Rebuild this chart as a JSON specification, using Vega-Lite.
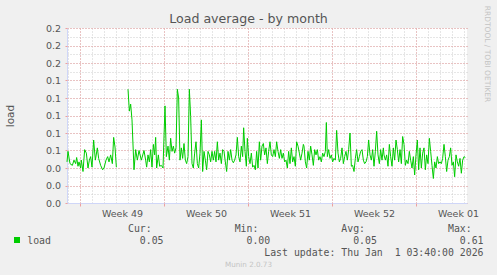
{
"$schema": "https://vega.github.io/schema/vega-lite/v6.json",
"width": 400, "height": 175,
"autosize": "none",
"padding": {"left": 67, "top": 28, "right": 30, "bottom": 72},
"background": "#f0f0f0",
"config": {"view": {"stroke": null, "fill": "white"}, "font": "DejaVu Sans"},
"title": {"text": "Load average - by month", "frame": "group", "anchor": "middle", "dx": -18.5, "dy": 34, "offset": 3.7, "baseline": "alphabetic", "fontSize": 12.6, "fontWeight": "normal", "font": "DejaVu Sans", "color": "#555555"},
"data": {"values": [
{"hour":-26,"load":0.047},{"hour":-24,"load":0.059},{"hour":-20,"load":0.045},{"hour":-15.3,"load":0.043},{"hour":-12,"load":0.049},{"hour":-8.7,"load":0.045},{"hour":-6.7,"load":0.052},{"hour":-4,"load":0.042},{"hour":-2,"load":0.047},{"hour":1.3,"load":0.040},{"hour":2.7,"load":0.049},{"hour":6,"load":0.036},{"hour":9.3,"load":0.061},{"hour":12.7,"load":0.057},{"hour":16,"load":0.040},{"hour":18.7,"load":0.049},{"hour":21.3,"load":0.053},{"hour":24,"load":0.041},{"hour":27.3,"load":0.072},{"hour":30.7,"load":0.049},{"hour":34.7,"load":0.063},{"hour":37.3,"load":0.051},{"hour":41.3,"load":0.043},{"hour":45.3,"load":0.038},{"hour":48,"load":0.040},{"hour":52,"load":0.049},{"hour":55.3,"load":0.053},{"hour":58,"load":0.047},{"hour":61.3,"load":0.055},{"hour":64.7,"load":0.045},{"hour":67.3,"load":0.075},{"hour":70,"load":0.064},{"hour":72.7,"load":0.041},
{"hour":85,"load":null},
{"hour":96,"load":0.130},{"hour":98.7,"load":0.105},{"hour":101.3,"load":0.113},{"hour":104,"load":0.095},{"hour":108,"load":0.038},{"hour":111.3,"load":0.061},{"hour":114.7,"load":0.049},{"hour":118,"load":0.060},{"hour":122.7,"load":0.049},
{"hour":128,"load":0.060},{"hour":131.3,"load":0.049},{"hour":133.3,"load":0.041},{"hour":136,"load":0.055},{"hour":138.7,"load":0.047},{"hour":141.3,"load":0.061},{"hour":144,"load":0.041},{"hour":146.7,"load":0.067},{"hour":149.3,"load":0.055},{"hour":151.3,"load":0.075},{"hour":153.3,"load":0.040},{"hour":156.7,"load":0.055},{"hour":159.3,"load":0.042},{"hour":162.7,"load":0.043},{"hour":166,"load":0.040},{"hour":170,"load":0.111},{"hour":172.7,"load":0.053},{"hour":176,"load":0.065},{"hour":178.7,"load":0.049},{"hour":181.3,"load":0.074},{"hour":184,"load":0.059},{"hour":186.7,"load":0.065},{"hour":189.3,"load":0.057},{"hour":192,"load":0.063},{"hour":194.7,"load":0.130},{"hour":197.3,"load":0.120},{"hour":200,"load":0.049},{"hour":202.7,"load":0.063},{"hour":205.3,"load":0.051},{"hour":208,"load":0.068},{"hour":210.7,"load":0.049},{"hour":213.3,"load":0.045},{"hour":216,"load":0.053},{"hour":218.7,"load":0.130},{"hour":221.3,"load":0.099},{"hour":224,"load":0.045},{"hour":226.7,"load":0.040},{"hour":229.3,"load":0.057},{"hour":232,"load":0.070},{"hour":234.7,"load":0.045},{"hour":237.3,"load":0.040},{"hour":240,"load":0.057},{"hour":242.7,"load":0.095},{"hour":245.3,"load":0.036},{"hour":248,"load":0.059},{"hour":250.7,"load":0.049},{"hour":253.3,"load":0.038},{"hour":256,"load":0.059},{"hour":258.7,"load":0.055},{"hour":261.3,"load":0.047},{"hour":264,"load":0.059},{"hour":266.7,"load":0.049},{"hour":269.3,"load":0.059},{"hour":272,"load":0.047},{"hour":274.7,"load":0.070},{"hour":277.3,"load":0.049},{"hour":280,"load":0.057},{"hour":282.7,"load":0.045},{"hour":285.3,"load":0.061},
{"hour":288,"load":0.059},{"hour":290.7,"load":0.047},{"hour":293.3,"load":0.036},{"hour":296,"load":0.059},{"hour":298.7,"load":0.049},{"hour":301.3,"load":0.061},{"hour":304,"load":0.049},{"hour":306.7,"load":0.046},{"hour":309.3,"load":0.049},{"hour":312,"load":0.055},{"hour":314.7,"load":0.075},{"hour":317.3,"load":0.053},{"hour":320,"load":0.047},{"hour":322.7,"load":0.065},{"hour":325.3,"load":0.053},{"hour":327.3,"load":0.086},{"hour":330,"load":0.059},{"hour":332.7,"load":0.042},{"hour":334.7,"load":0.074},{"hour":337.3,"load":0.053},{"hour":340,"load":0.045},{"hour":342.7,"load":0.057},{"hour":345.3,"load":0.041},{"hour":348,"load":0.043},{"hour":350.7,"load":0.038},{"hour":353.3,"load":0.059},{"hour":356,"load":0.040},{"hour":358.7,"load":0.070},{"hour":361.3,"load":0.049},{"hour":364,"load":0.065},{"hour":366.7,"load":0.068},{"hour":369.3,"load":0.055},{"hour":372,"load":0.063},{"hour":374.7,"load":0.045},{"hour":377.3,"load":0.059},{"hour":380,"load":0.070},{"hour":382.7,"load":0.055},{"hour":385.3,"load":0.053},{"hour":388,"load":0.061},{"hour":390.7,"load":0.053},{"hour":393.3,"load":0.070},{"hour":396,"load":0.059},{"hour":398.7,"load":0.051},{"hour":401.3,"load":0.061},{"hour":404,"load":0.051},{"hour":406.7,"load":0.057},{"hour":409.3,"load":0.047},{"hour":412,"load":0.049},{"hour":414.7,"load":0.040},{"hour":417.3,"load":0.059},{"hour":420,"load":0.045},{"hour":422.7,"load":0.063},{"hour":425.3,"load":0.047},{"hour":428,"load":0.053},{"hour":430.7,"load":0.042},{"hour":433.3,"load":0.070},{"hour":436,"load":0.065},{"hour":438.7,"load":0.057},{"hour":441.3,"load":0.049},{"hour":444,"load":0.057},{"hour":446.7,"load":0.067},
{"hour":448,"load":0.065},{"hour":450.7,"load":0.047},{"hour":453.3,"load":0.040},{"hour":456,"load":0.059},{"hour":458.7,"load":0.049},{"hour":461.3,"load":0.065},{"hour":464,"load":0.055},{"hour":466.7,"load":0.043},{"hour":469.3,"load":0.061},{"hour":472,"load":0.055},{"hour":474.7,"load":0.061},{"hour":477.3,"load":0.049},{"hour":480,"load":0.053},{"hour":482.7,"load":0.047},{"hour":485.3,"load":0.057},{"hour":488,"load":0.053},{"hour":490.7,"load":0.059},{"hour":492.7,"load":0.092},{"hour":494.7,"load":0.053},{"hour":497.3,"load":0.061},{"hour":500,"load":0.051},{"hour":502.7,"load":0.055},{"hour":505.3,"load":0.047},{"hour":508,"load":0.051},{"hour":510.7,"load":0.049},{"hour":513.3,"load":0.083},{"hour":516,"load":0.057},{"hour":518.7,"load":0.047},{"hour":521.3,"load":0.051},{"hour":524,"load":0.063},{"hour":526.7,"load":0.045},{"hour":529.3,"load":0.053},{"hour":532,"load":0.059},{"hour":534.7,"load":0.049},{"hour":537.3,"load":0.061},{"hour":540,"load":0.080},{"hour":542.7,"load":0.042},{"hour":545.3,"load":0.043},{"hour":548,"load":0.036},{"hour":550.7,"load":0.051},{"hour":553.3,"load":0.061},{"hour":556,"load":0.047},{"hour":558.7,"load":0.053},{"hour":561.3,"load":0.059},{"hour":564,"load":0.061},{"hour":566.7,"load":0.049},{"hour":569.3,"load":0.045},{"hour":572,"load":0.047},{"hour":574.7,"load":0.053},{"hour":577.3,"load":0.072},{"hour":580,"load":0.055},{"hour":582.7,"load":0.049},{"hour":585.3,"load":0.061},{"hour":588,"load":0.042},{"hour":590.7,"load":0.059},{"hour":593.3,"load":0.082},{"hour":596,"load":0.055},{"hour":598.7,"load":0.045},{"hour":601.3,"load":0.061},{"hour":604,"load":0.049},{"hour":606.7,"load":0.063},
{"hour":608,"load":0.055},{"hour":610.7,"load":0.049},{"hour":613.3,"load":0.055},{"hour":616,"load":0.042},{"hour":618.7,"load":0.067},{"hour":621.3,"load":0.053},{"hour":624,"load":0.042},{"hour":626.7,"load":0.063},{"hour":629.3,"load":0.049},{"hour":632,"load":0.072},{"hour":634.7,"load":0.061},{"hour":637.3,"load":0.047},{"hour":640,"load":0.061},{"hour":642.7,"load":0.045},{"hour":645.3,"load":0.076},{"hour":648,"load":0.067},{"hour":650.7,"load":0.043},{"hour":653.3,"load":0.049},{"hour":656,"load":0.045},{"hour":658.7,"load":0.059},{"hour":661.3,"load":0.049},{"hour":664,"load":0.040},{"hour":666.7,"load":0.053},{"hour":669.3,"load":0.032},{"hour":672,"load":0.055},{"hour":674.7,"load":0.072},{"hour":677.3,"load":0.038},{"hour":680,"load":0.063},{"hour":682.7,"load":0.040},{"hour":685.3,"load":0.057},{"hour":688,"load":0.063},{"hour":690.7,"load":0.038},{"hour":693.3,"load":0.055},{"hour":696,"load":0.045},{"hour":698.7,"load":0.074},{"hour":701.3,"load":0.059},{"hour":704,"load":0.043},{"hour":706.7,"load":0.028},{"hour":709.3,"load":0.047},{"hour":712,"load":0.040},{"hour":714.7,"load":0.053},{"hour":717.3,"load":0.045},{"hour":720,"load":0.047},{"hour":722.7,"load":0.045},{"hour":725.3,"load":0.051},{"hour":728,"load":0.067},{"hour":730.7,"load":0.053},{"hour":733.3,"load":0.036},{"hour":736,"load":0.049},{"hour":738.7,"load":0.053},{"hour":741.3,"load":0.063},{"hour":744,"load":0.043},{"hour":746.7,"load":0.047},{"hour":749.3,"load":0.030},{"hour":752,"load":0.055},{"hour":754.7,"load":0.047},{"hour":757.3,"load":0.042},{"hour":760,"load":0.051},{"hour":762.7,"load":0.034},{"hour":765.3,"load":0.049},{"hour":768,"load":0.053},{"hour":770.7,"load":0.052}
]},
"resolve": {"axis": {"x": "independent", "y": "independent"}},
"layer": [
{
"mark": {"type": "line", "strokeWidth": 1, "invalid": "break-paths-show-domains"},
"encoding": {
"x": {"field": "hour", "type": "quantitative", "scale": {"domain": [-26, 774], "nice": false, "zero": false},
 "axis": {"orient": "bottom", "values": [-24,0,24,48,72,96,120,144,168,192,216,240,264,288,312,336,360,384,408,432,456,480,504,528,552,576,600,624,648,672,696,720,744,768],
  "grid": true, "gridColor": "#cccccc", "gridDash": [1,2], "gridWidth": 1, "ticks": false, "labels": false, "domain": true, "domainColor": "#cfd6f8", "domainWidth": 1,
  "title": "Munin 2.0.73", "titleFont": "DejaVu Sans", "titleFontSize": 7.2, "titleFontWeight": "normal", "titleColor": "#c4c4c4", "titleX": 181, "titleY": 63.7, "titleAlign": "center", "titleBaseline": "alphabetic", "titleAnchor": null}},
"y": {"field": "load", "type": "quantitative", "scale": {"domain": [0, 0.2], "nice": false, "zero": true},
 "axis": {"orient": "left", "values": [0,0.01,0.02,0.03,0.04,0.05,0.06,0.07,0.08,0.09,0.1,0.11,0.12,0.13,0.14,0.15,0.16,0.17,0.18,0.19,0.2],
  "grid": true, "gridColor": "#cccccc", "gridDash": [1,2], "ticks": false, "labels": false, "domain": true, "domainColor": "#cfd6f8", "title": null}},
"color": {"datum": "load", "scale": {"range": ["#00cc00"]},
 "legend": {"orient": "none", "legendX": -53, "legendY": 209, "title": null, "symbolType": "square", "symbolSize": 36, "labelExpr": "''", "labelFontSize": 6, "padding": 0,
  "encode": {"symbols": {"update": {"fill": {"value": "#00cc00"}, "fillOpacity": {"value": 1}, "strokeWidth": {"value": 0}, "shape": {"value": "square"}}}}}}
}
},
{
"mark": {"type": "point", "opacity": 0},
"encoding": {
"x": {"field": "hour", "type": "quantitative", "scale": {"domain": [-26, 774], "nice": false, "zero": false},
 "axis": {"orient": "bottom", "values": [0,168,336,504,672], "grid": true, "gridColor": "#eda0a0", "gridDash": [1,2], "ticks": true, "tickColor": "#eda0a0", "tickSize": 3, "labels": false, "domain": false, "title": null}},
"y": {"field": "load", "type": "quantitative", "scale": {"domain": [0, 0.2], "nice": false, "zero": true},
 "axis": {"orient": "left", "values": [0,0.02,0.04,0.06,0.08,0.1,0.12,0.14,0.16,0.18,0.2], "format": ".1f",
  "grid": true, "gridColor": "#eda0a0", "gridDash": [1,2], "ticks": true, "tickColor": "#eda0a0", "tickSize": 2, "domain": false,
  "labelFont": "DejaVu Sans", "labelFontSize": 9.5, "labelColor": "#555555", "labelPadding": 4.5,
  "title": "load", "titleFont": "DejaVu Sans", "titleFontSize": 10.5, "titleFontWeight": "normal", "titleColor": "#555555", "titleX": -57, "titleY": 87.5, "titleAngle": -90, "titleAlign": "center", "titleBaseline": "middle", "titleAnchor": null}}
}
},
{
"mark": {"type": "point", "opacity": 0},
"encoding": {
"x": {"field": "hour", "type": "quantitative", "scale": {"domain": [-26, 774], "nice": false, "zero": false},
 "axis": {"orient": "bottom", "values": [84,252,420,588,756], "labelExpr": "['Week 49','Week 50','Week 51','Week 52','Week 01'][round((datum.value-84)/168)]",
  "grid": false, "ticks": false, "tickSize": 0, "domain": false, "labelOverlap": false, "labelFlush": false, "labelBound": false,
  "labelFont": "DejaVu Sans", "labelFontSize": 9.5, "labelColor": "#555555", "labelPadding": 13, "labelBaseline": "alphabetic",
  "title": ["\u200b\u00a0\u00a0\u00a0\u00a0\u00a0\u00a0\u00a0\u00a0\u00a0\u00a0\u00a0\u00a0\u00a0\u00a0\u00a0\u00a0\u00a0Cur:\u00a0\u00a0\u00a0\u00a0\u00a0\u00a0\u00a0\u00a0\u00a0\u00a0\u00a0\u00a0\u00a0\u00a0Min:\u00a0\u00a0\u00a0\u00a0\u00a0\u00a0\u00a0\u00a0\u00a0\u00a0\u00a0\u00a0\u00a0\u00a0Avg:\u00a0\u00a0\u00a0\u00a0\u00a0\u00a0\u00a0\u00a0\u00a0\u00a0\u00a0\u00a0\u00a0\u00a0Max:",
   "load\u00a0\u00a0\u00a0\u00a0\u00a0\u00a0\u00a0\u00a0\u00a0\u00a0\u00a0\u00a0\u00a0\u00a0\u00a00.05\u00a0\u00a0\u00a0\u00a0\u00a0\u00a0\u00a0\u00a0\u00a0\u00a0\u00a0\u00a0\u00a0\u00a00.00\u00a0\u00a0\u00a0\u00a0\u00a0\u00a0\u00a0\u00a0\u00a0\u00a0\u00a0\u00a0\u00a0\u00a00.05\u00a0\u00a0\u00a0\u00a0\u00a0\u00a0\u00a0\u00a0\u00a0\u00a0\u00a0\u00a0\u00a0\u00a00.61",
   "\u200b\u00a0\u00a0\u00a0\u00a0\u00a0\u00a0\u00a0\u00a0\u00a0\u00a0\u00a0\u00a0\u00a0\u00a0\u00a0\u00a0\u00a0\u00a0\u00a0\u00a0\u00a0\u00a0\u00a0\u00a0\u00a0\u00a0\u00a0\u00a0\u00a0\u00a0\u00a0\u00a0\u00a0\u00a0\u00a0\u00a0\u00a0\u00a0\u00a0\u00a0Last update:\u00a0Thu Jan\u00a0\u00a01 03:40:00 2026"],
  "titleFont": "DejaVu Sans Mono", "titleFontSize": 9.85, "titleFontWeight": "normal", "titleColor": "#555555", "titleX": -40.3, "titleY": 28.2, "titleAlign": "left", "titleBaseline": "alphabetic", "titleLineHeight": 12, "titleAnchor": null}},
"y": {"field": "load", "type": "quantitative", "scale": {"domain": [0, 0.2], "nice": false, "zero": true},
 "axis": {"orient": "right", "grid": false, "ticks": false, "labels": false, "domain": false,
  "title": "RRDTOOL / TOBI OETIKER", "titleFont": "DejaVu Sans", "titleFontSize": 7.5, "titleFontWeight": "normal", "titleColor": "#c4c4c4", "titleX": 19.7, "titleY": 25.5, "titleAngle": 90, "titleAlign": "center", "titleBaseline": "middle", "titleAnchor": null}}
}
}
]
}
